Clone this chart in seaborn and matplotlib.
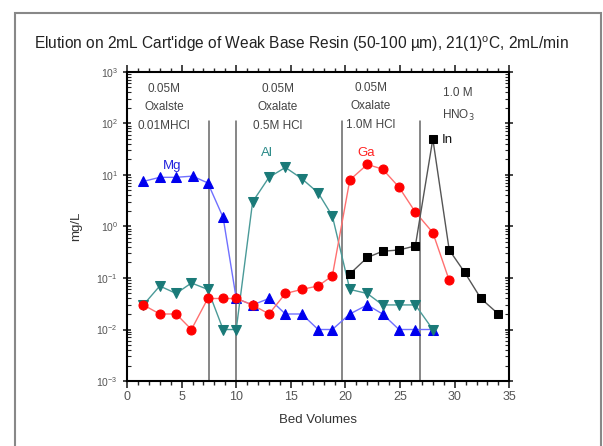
import matplotlib
matplotlib.use("Agg")
import matplotlib.pyplot as plt
import seaborn as sns
import pandas as pd
from matplotlib.patches import Rectangle
from matplotlib.ticker import LogLocator, MultipleLocator, NullFormatter

sns.set_style("ticks")
plt.rcParams['font.family'] = ['Liberation Sans', 'DejaVu Sans']

# ---- data ----
mg_x = [1.5, 3, 4.5, 6, 7.4, 8.8, 10, 11.5, 13, 14.5, 16, 17.5, 18.8, 20.4, 22, 23.4, 24.9, 26.4, 28]
mg_y = [7.5, 9, 9, 9.5, 7, 1.5, 0.04, 0.03, 0.04, 0.02, 0.02, 0.01, 0.01, 0.02, 0.03, 0.02, 0.01, 0.01, 0.01]
al_x = [1.5, 3, 4.5, 5.9, 7.4, 8.8, 10, 11.5, 13, 14.5, 16, 17.5, 18.8, 20.4, 22, 23.4, 24.9, 26.4, 28]
al_y = [0.03, 0.07, 0.05, 0.08, 0.06, 0.01, 0.01, 3, 9, 14, 8.5, 4.5, 1.6, 0.06, 0.05, 0.03, 0.03, 0.03, 0.01]
ga_x = [1.5, 3, 4.5, 5.9, 7.4, 8.8, 10, 11.5, 13, 14.5, 16, 17.5, 18.8, 20.4, 22, 23.4, 24.9, 26.4, 28, 29.5]
ga_y = [0.03, 0.02, 0.02, 0.01, 0.04, 0.04, 0.04, 0.03, 0.02, 0.05, 0.06, 0.07, 0.11, 8, 16, 13, 5.8, 1.9, 0.76, 0.09]
in_x = [20.4, 22, 23.4, 24.9, 26.4, 28, 29.5, 30.9, 32.4, 34]
in_y = [0.12, 0.25, 0.33, 0.35, 0.42, 50, 0.35, 0.13, 0.04, 0.02]

cut_x = [7.5, 10, 19.7, 26.8]
stage_labels = ["0.05M\nOxalste\n0.01MHCl", "0.05M\nOxalate\n0.5M HCl",
                "0.05M\nOxalate\n1.0M HCl", "1.0 M\nHNO$_3$"]
stage_x = [3.4, 13.8, 22.3, 30.3]
stage_y = [620, 620, 650, 500]

title = "Elution on 2mL Cart'idge of Weak Base Resin (50-100 µm), 21(1)$^{\\mathregular{o}}$C, 2mL/min"

fig = plt.figure(figsize=(6.03, 4.46), dpi=100)
ax = fig.add_axes([0.2106, 0.1457, 0.634, 0.693])

series = [
    ("Mg", mg_x, mg_y, "^", "#0000ee", "#7070ff", 7),
    ("Al", al_x, al_y, "v", "#1a7a78", "#4a9a98", 7),
    ("Ga", ga_x, ga_y, "o", "#ff0000", "#ff7070", 6.5),
    ("In", in_x, in_y, "s", "#000000", "#555555", 5.5),
]
for name, xs, ys, mk, mc, lc, ms in series:
    df = pd.DataFrame({"x": xs, "y": ys})
    sns.lineplot(data=df, x="x", y="y", ax=ax, sort=False, color=lc, lw=1.0,
                 marker=mk, markersize=ms, markerfacecolor=mc, markeredgecolor=mc,
                 zorder=3)

for cx in cut_x:
    ax.plot([cx, cx], [1e-3, 110], color="#666666", lw=1.1, zorder=2)

ax.set_yscale("log")
ax.set_xlim(0, 35)
ax.set_ylim(1e-3, 1e3)
ax.xaxis.set_major_locator(MultipleLocator(5))
ax.xaxis.set_minor_locator(MultipleLocator(1))
ax.yaxis.set_major_locator(LogLocator(base=10, numticks=10))
ax.yaxis.set_minor_locator(LogLocator(base=10, subs=range(2, 10), numticks=20))
ax.yaxis.set_minor_formatter(NullFormatter())

for s in ax.spines.values():
    s.set_visible(True)
    s.set_linewidth(1.5)
    s.set_color("black")

ax.tick_params(axis="x", which="major", direction="out", length=5, width=1.2,
               labelsize=9, labelcolor="#555555", top=True, pad=2)
ax.tick_params(axis="x", which="minor", direction="out", length=3, width=1.0, top=True)
ax.tick_params(axis="y", which="major", direction="inout", length=6, width=1.2,
               labelsize=7.5, labelcolor="#555555", right=True)
ax.tick_params(axis="y", which="minor", direction="in", length=3, width=0.8, right=True)

ax.set_xlabel("Bed Volumes", fontsize=9.5, color="#333333", labelpad=8)
ax.set_ylabel("mg/L", fontsize=9.5, color="#333333", labelpad=10)

for lab, sx, sy in zip(stage_labels, stage_x, stage_y):
    ax.text(sx, sy, lab, ha="center", va="top", fontsize=8.5, color="#444444",
            linespacing=1.75)

ax.text(4.1, 15, "Mg", color="#2222dd", fontsize=9.5, ha="center", va="center")
ax.text(12.8, 27, "Al", color="#2a8a88", fontsize=9.5, ha="center", va="center")
ax.text(21.9, 27, "Ga", color="#ff2222", fontsize=9.5, ha="center", va="center")
ax.text(28.8, 48, "In", color="#111111", fontsize=9.5, ha="left", va="center")

fig.text(0.5, 0.9, title, ha="center", va="center", fontsize=11.2, color="#222222")

fig.patches.append(Rectangle((15 / 603, -0.05), (601 - 15) / 603, 1.05 - 13 / 446,
                             transform=fig.transFigure, fill=False,
                             edgecolor="#888888", lw=1.5))

fig.savefig("out.png", dpi=100)
